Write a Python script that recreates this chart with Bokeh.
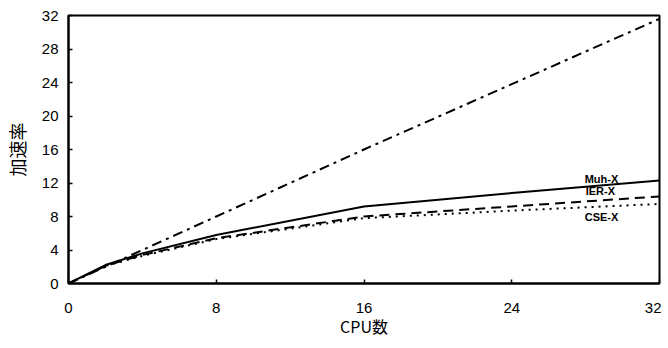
from bokeh.plotting import figure
from bokeh.models import Range1d, FixedTicker
from bokeh.core.properties import value
from bokeh.embed import file_html
from bokeh.resources import INLINE

cpus = [0, 2, 4, 8, 16, 24, 32]
ideal = [0, 2, 4, 8, 16, 23.8, 31.6]
muh_x = [0, 2.2, 3.6, 5.8, 9.2, 10.8, 12.3]
ier_x = [0, 2.1, 3.4, 5.4, 8.0, 9.2, 10.4]
cse_x = [0, 2.1, 3.3, 5.3, 7.8, 8.7, 9.5]
x_ticks = [0, 8, 16, 24, 32]
y_ticks = [0, 4, 8, 12, 16, 20, 24, 28, 32]
labels = ["Muh-X", "IER-X", "CSE-X"]
label_x = [27.95, 28.0, 27.95]
label_y = [12.5, 11.0, 8.0]

p = figure(output_backend="svg", toolbar_location=None,
           x_range=Range1d(0, 32), y_range=Range1d(0, 32),
           frame_width=591, frame_height=268,
           min_border_left=59, min_border_right=2, min_border_top=15, min_border_bottom=10)
p.background_fill_color = "white"
p.border_fill_color = "white"
p.outline_line_color = "black"
p.outline_line_width = 2
p.xgrid.visible = False
p.ygrid.visible = False

for ax in (p.xaxis[0], p.yaxis[0]):
    ax.axis_line_width = 2
    ax.axis_line_color = "black"
    ax.major_tick_in = 4
    ax.major_tick_out = 0
    ax.minor_tick_in = 0
    ax.minor_tick_out = 0
    ax.major_tick_line_width = 1.5
    ax.major_label_text_font = "Liberation Sans"
    ax.major_label_text_font_size = "15px"
    ax.major_label_text_color = "black"
    ax.axis_label_text_font = "Noto Sans CJK JP"
    ax.axis_label_text_font_style = "normal"
    ax.axis_label_text_color = "black"
    ax.axis_label_text_font_size = "16px"

p.xaxis.ticker = FixedTicker(ticks=x_ticks)
p.yaxis.ticker = FixedTicker(ticks=y_ticks)
p.xaxis.axis_label = "CPU数"
p.yaxis.axis_label = "加速率"
p.xaxis.major_label_standoff = 19
p.yaxis.major_label_standoff = 10
p.xaxis.axis_label_standoff = -2
p.yaxis.axis_label_standoff = 9
p.yaxis.axis_label_text_font_size = "18px"

p.line(cpus, ideal, line_color="black", line_width=2, line_dash="10 5 3 5")
p.line(cpus, muh_x, line_color="black", line_width=2)
p.line(cpus, ier_x, line_color="black", line_width=2, line_dash="10 6")
p.line(cpus, cse_x, line_color="black", line_width=2, line_dash="2 5")

p.text(x=label_x, y=label_y, text=labels, text_font=value("Liberation Sans"),
       text_font_size="11px", text_font_style="bold", text_align="left",
       text_baseline="middle", text_color="black")

open("out.html", "w").write(file_html(p, INLINE))
